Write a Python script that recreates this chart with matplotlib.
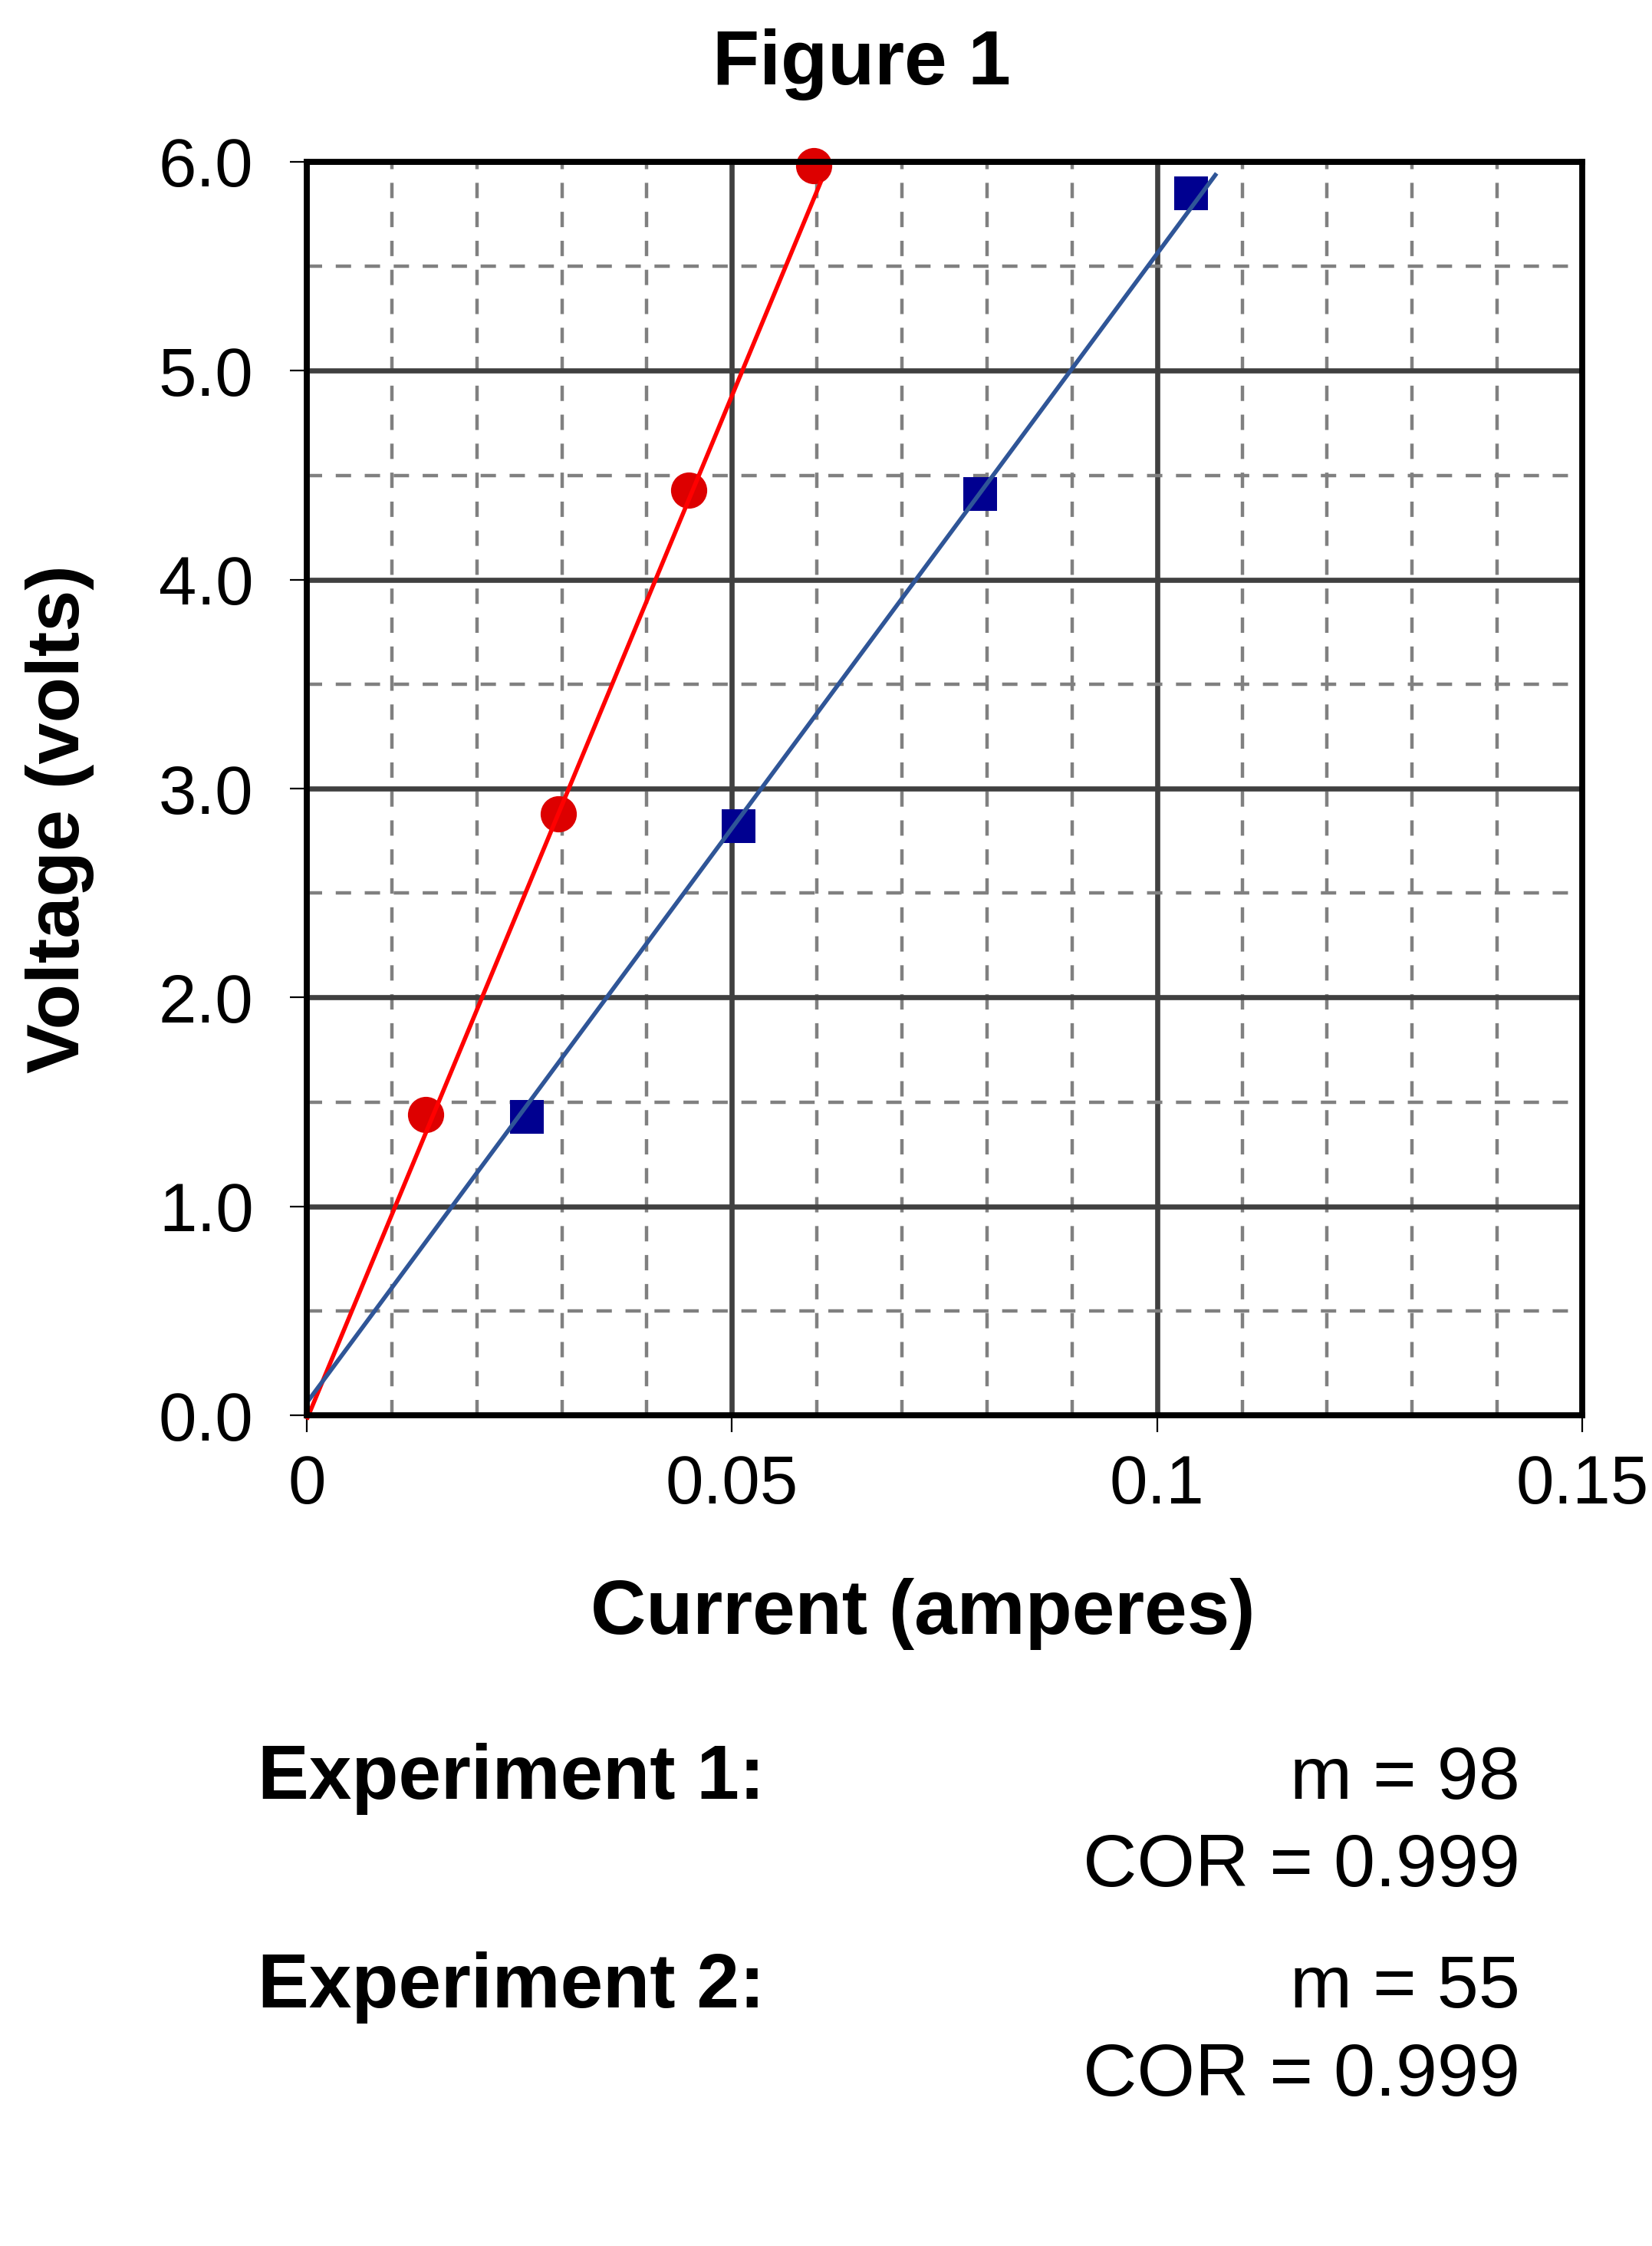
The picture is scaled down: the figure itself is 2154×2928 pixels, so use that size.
import numpy as np
import matplotlib
matplotlib.use('Agg')
import matplotlib.pyplot as plt
from matplotlib.ticker import MultipleLocator

plt.rcParams['font.family'] = ['Liberation Sans', 'DejaVu Sans']

# Experiment 1 (red circles)
current_1 = [0.0140, 0.0296, 0.0449, 0.0596]
voltage_1 = [1.44, 2.88, 4.43, 5.98]
# Experiment 2 (blue squares)
current_2 = [0.0259, 0.0508, 0.0792, 0.1040]
voltage_2 = [1.43, 2.82, 4.41, 5.85]

# Trend lines: slope from the summary text, intercept
slopes = [98, 55]
intercepts = [-0.02, 0.06]
line_end = [0.0605, 0.107]
cor = [0.999, 0.999]

x_ticks = [0, 0.05, 0.1, 0.15]
x_tick_labels = ['0', '0.05', '0.1', '0.15']
y_ticks = [0, 1, 2, 3, 4, 5, 6]
y_tick_labels = ['0.0', '1.0', '2.0', '3.0', '4.0', '5.0', '6.0']

W, H = 2154, 2928
fig = plt.figure(figsize=(W / 200, H / 200), dpi=200)
ax = fig.add_axes([400 / W, 1 - 1845 / H, 1663 / W, 1634 / H])

ax.set_xlim(0, 0.15)
ax.set_ylim(0, 6)
ax.set_xticks(x_ticks)
ax.set_xticklabels(x_tick_labels)
ax.set_yticks(y_ticks)
ax.set_yticklabels(y_tick_labels)
ax.xaxis.set_minor_locator(MultipleLocator(0.01))
ax.yaxis.set_minor_locator(MultipleLocator(0.5))

ax.grid(which='minor', color='#808080', lw=1.6, linestyle=(0, (4.5, 4)), zorder=0)
ax.grid(which='major', color='#404040', lw=2.4, zorder=1)
ax.set_axisbelow(True)

ax.tick_params(which='major', direction='out', length=8, width=0.8,
               labelsize=32, color='black')
ax.tick_params(axis='y', which='major', pad=17)
ax.tick_params(axis='x', which='major', pad=10)
ax.tick_params(which='minor', length=0)
for s in ax.spines.values():
    s.set_linewidth(2.8)
    s.set_color('black')
    s.set_zorder(5)

# markers first, then trend lines on top
ax.plot(current_1, voltage_1, 'o', color='#DD0000', markersize=17,
        markeredgewidth=0, zorder=3, clip_on=False)
ax.plot(current_2, voltage_2, 's', color='#000090', markersize=16,
        markeredgewidth=0, zorder=3, clip_on=False)

colors = ['#FF0000', '#2F5597']
for m, b, xe, c in zip(slopes, intercepts, line_end, colors):
    xs = np.array([0, xe])
    ax.plot(xs, m * xs + b, color=c, lw=2.0, zorder=4, clip_on=False,
            solid_capstyle='butt')

fig.text(1123 / W, 1 - 110 / H, 'Figure 1', fontsize=36, fontweight='bold',
         ha='center', va='baseline')
fig.text(78 / W, 1 - 1068 / H, 'Voltage (volts)', fontsize=35,
         fontweight='bold', rotation=90, ha='center', va='center')
fig.text(1203 / W, 1 - 2130 / H, 'Current (amperes)', fontsize=36,
         fontweight='bold', ha='center', va='baseline')

rows = [(2345, 2459), (2617, 2732)]
for i, (y1, y2) in enumerate(rows):
    fig.text(336 / W, 1 - y1 / H, f'Experiment {i + 1}:', fontsize=36,
             fontweight='bold', ha='left', va='baseline')
    fig.text(1982 / W, 1 - y1 / H, f'm = {slopes[i]}', fontsize=35,
             ha='right', va='baseline')
    fig.text(1982 / W, 1 - y2 / H, f'COR = {cor[i]}', fontsize=35,
             ha='right', va='baseline')

fig.savefig('out.png', dpi=200)
